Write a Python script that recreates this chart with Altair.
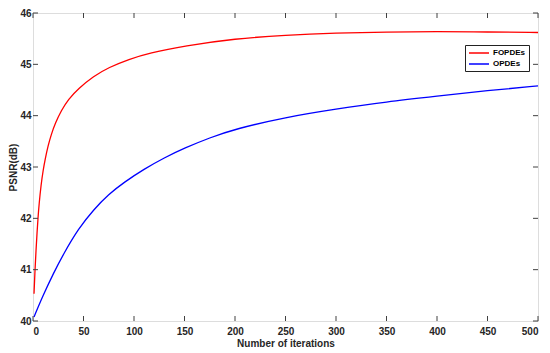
import altair as alt
import pandas as pd

# FOPDEs (red)
fop_x = [1, 2, 3, 4, 5, 6, 8, 10, 12, 15, 18, 22, 28, 35, 45, 60, 75, 95, 115, 150, 200, 250, 300, 350, 400, 450, 500]
fop_y = [40.53, 41.0, 41.38, 41.72, 42.02, 42.27, 42.66, 42.93, 43.15, 43.42, 43.63, 43.85, 44.10, 44.32, 44.53, 44.77, 44.94, 45.10, 45.22, 45.36, 45.50, 45.57, 45.61, 45.63, 45.64, 45.63, 45.62]

# OPDEs (blue)
op_x = [1, 10, 20, 30, 45, 60, 75, 90, 110, 130, 150, 175, 200, 250, 300, 350, 400, 450, 500]
op_y = [40.08, 40.50, 40.92, 41.30, 41.80, 42.17, 42.47, 42.70, 42.96, 43.18, 43.37, 43.57, 43.74, 43.97, 44.13, 44.27, 44.38, 44.49, 44.58]

series_names = ["FOPDEs", "OPDEs"]
series_colors = ["#ff0000", "#0000ff"]

x_ticks = [0, 50, 100, 150, 200, 250, 300, 350, 400, 450, 500]
y_ticks = [40, 41, 42, 43, 44, 45, 46]

df = pd.DataFrame(
    {"iter": fop_x + op_x,
     "psnr": fop_y + op_y,
     "series": ["FOPDEs"] * len(fop_x) + ["OPDEs"] * len(op_x)}
)
xt = pd.DataFrame({"v": x_ticks})
yt = pd.DataFrame({"v": y_ticks})

W, H = 505, 308
AX = "#404040"
FONT = "Liberation Sans"

xscale = alt.Scale(domain=[0, 500], nice=False, zero=False)
yscale = alt.Scale(domain=[40, 46], nice=False, zero=False)

lines = alt.Chart(df).mark_line(strokeWidth=1.3, interpolate="basis").encode(
    x=alt.X("iter:Q", scale=xscale,
            axis=alt.Axis(values=x_ticks, title="Number of iterations", domain=False, ticks=False,
                          grid=False, labelPadding=5, labelFontSize=10, labelFontWeight="bold",
                          labelColor="#262626", labelFont=FONT, titleFont=FONT, titleFontSize=10,
                          titleFontWeight="bold", titleColor="#262626", titlePadding=2)),
    y=alt.Y("psnr:Q", scale=yscale,
            axis=alt.Axis(values=y_ticks, title="PSNR(dB)", domain=False, ticks=False, grid=False,
                          labelPadding=2, labelFontSize=10, labelFontWeight="bold",
                          labelColor="#262626", labelFont=FONT, titleFont=FONT, titleFontSize=10,
                          titleFontWeight="bold", titleColor="#262626", titlePadding=1)),
    color=alt.Color("series:N",
                    scale=alt.Scale(domain=series_names, range=series_colors),
                    legend=alt.Legend(title=None, orient="none", legendX=432, legendY=32,
                                      symbolType="M-2.5,0H2.5", symbolSize=64, symbolStrokeWidth=1.5,
                                      symbolOffset=6, labelOffset=9, padding=3, rowPadding=2,
                                      labelFont=FONT, labelFontSize=8, labelFontWeight="bold",
                                      labelColor="#000000", strokeColor="#222222", fillColor="white",
                                      cornerRadius=0)),
)

bx = alt.Chart(xt)
by = alt.Chart(yt)
tick_style = dict(color=AX, strokeWidth=1)
t_bottom = bx.mark_rule(**tick_style).encode(x=alt.X("v:Q", scale=xscale), y=alt.value(H - 5), y2=alt.value(H))
t_top = bx.mark_rule(**tick_style).encode(x=alt.X("v:Q", scale=xscale), y=alt.value(0), y2=alt.value(5))
t_left = by.mark_rule(**tick_style).encode(y=alt.Y("v:Q", scale=yscale), x=alt.value(0), x2=alt.value(5))
t_right = by.mark_rule(**tick_style).encode(y=alt.Y("v:Q", scale=yscale), x=alt.value(W - 5), x2=alt.value(W))

chart = alt.layer(lines, t_bottom, t_top, t_left, t_right).properties(
    width=W, height=H,
    autosize=alt.AutoSizeParams(type="none"),
    padding={"left": 25, "top": 5, "right": 3, "bottom": 30},
).configure_view(stroke=AX, strokeWidth=1.2).configure(background="white")

chart.save("out.html", embed_options={"renderer": "svg", "actions": False})
